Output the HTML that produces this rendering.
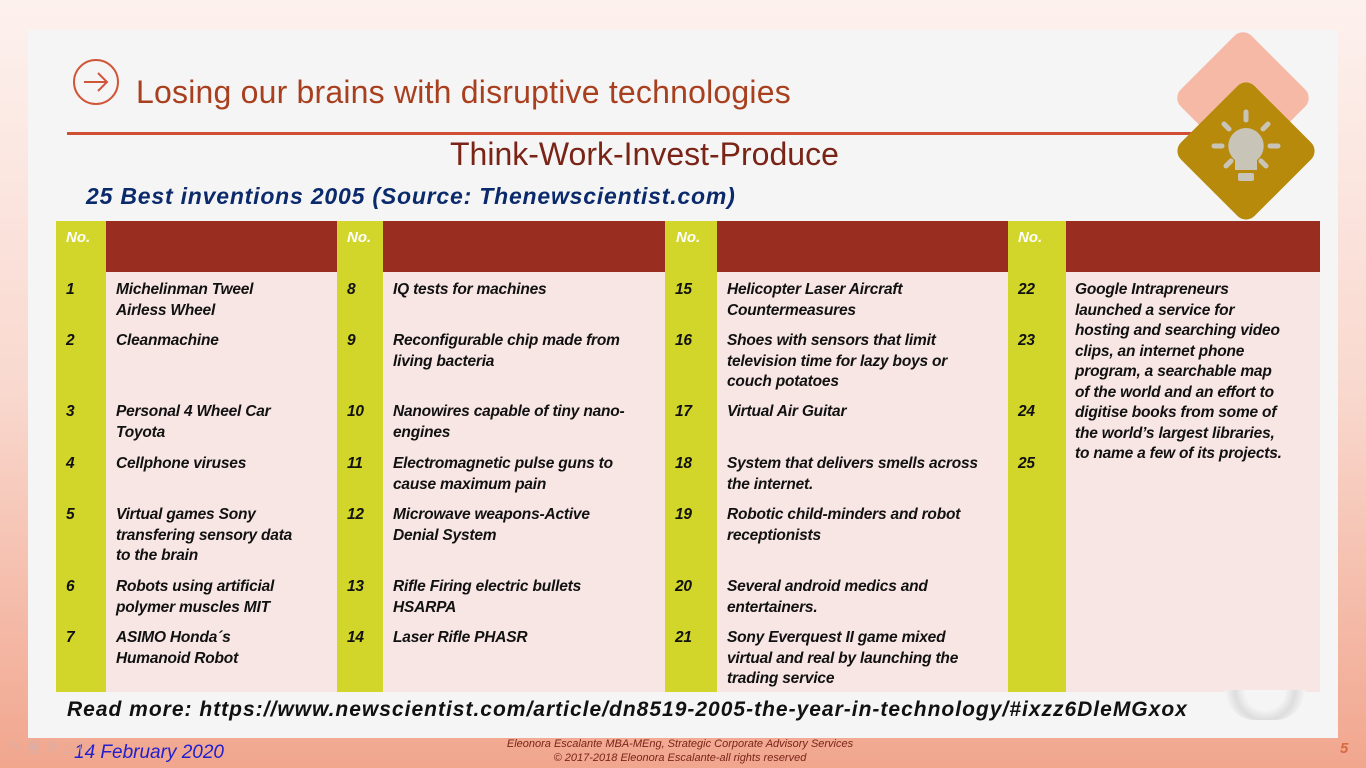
<!DOCTYPE html>
<html><head><meta charset="utf-8"><style>
body{margin:0;width:1366px;height:768px;overflow:hidden;position:relative;font-family:"Liberation Sans",sans-serif;background:linear-gradient(#fdf1ee 0%,#f9d9cf 50%,#f1a68e 100%);}
.abs{position:absolute}
.card{left:28px;top:30px;width:1310px;height:708px;background:#f5f5f5}
.cell{position:absolute;font-weight:bold;font-style:italic;font-size:15.5px;line-height:20.5px;color:#111;white-space:nowrap;letter-spacing:-0.2px}
.no{background:#d2d62a}
.hd{background:#992d1f}
.bd{background:#f7e6e4}
.nh{position:absolute;color:#fff;font-weight:bold;font-style:italic;font-size:15px;top:229px}
</style></head><body>
<div class="abs card"></div>
<svg class="abs" style="left:72px;top:55px" width="52" height="56"><circle cx="24" cy="27" r="22" fill="none" stroke="#d0563a" stroke-width="2"/><path d="M12 27h22M26 18l9 9-9 9" fill="none" stroke="#d0563a" stroke-width="2"/></svg>
<div class="abs" style="left:136px;top:74px;font-size:32px;color:#a8401f;letter-spacing:0.2px">Losing our brains with disruptive technologies</div>
<div class="abs" style="left:67px;top:132px;width:1130px;height:3px;background:#cf4f34"></div>
<div class="abs" style="left:1193px;top:48px;width:100px;height:100px;background:#f5b9a5;border-radius:12px;transform:rotate(45deg)"></div>
<div class="abs" style="left:1194px;top:99px;width:104px;height:104px;background:#b88a0c;border-radius:12px;transform:rotate(45deg)"></div>
<svg class="abs" style="left:1206px;top:106px" width="80" height="85"><g stroke="#c8c4b8" stroke-width="5" stroke-linecap="round"><line x1="40" y1="6" x2="40" y2="14"/><line x1="18" y1="18" x2="23" y2="23"/><line x1="62" y1="18" x2="57" y2="23"/><line x1="8" y1="40" x2="16" y2="40"/><line x1="72" y1="40" x2="64" y2="40"/><line x1="20" y1="60" x2="25" y2="55"/><line x1="60" y1="60" x2="55" y2="55"/></g><path d="M40 22a18 18 0 0 0-11 32v10h22V54a18 18 0 0 0-11-32z" fill="#c8c4b8"/><rect x="32" y="67" width="16" height="8" rx="2" fill="#c8c4b8"/></svg>
<div class="abs" style="left:450px;top:136px;font-size:32px;color:#7a2418">Think-Work-Invest-Produce</div>
<div class="abs" style="left:86px;top:183px;font-size:23px;font-weight:bold;font-style:italic;color:#0b2a6b;letter-spacing:0.8px">25 Best inventions 2005 (Source: Thenewscientist.com)</div>

<div class="abs no" style="left:56px;top:221px;width:50px;height:471px"></div>
<div class="abs hd" style="left:106px;top:221px;width:231px;height:51px"></div>
<div class="abs bd" style="left:106px;top:272px;width:231px;height:420px"></div>
<div class="abs no" style="left:337px;top:221px;width:46px;height:471px"></div>
<div class="abs hd" style="left:383px;top:221px;width:282px;height:51px"></div>
<div class="abs bd" style="left:383px;top:272px;width:282px;height:420px"></div>
<div class="abs no" style="left:665px;top:221px;width:52px;height:471px"></div>
<div class="abs hd" style="left:717px;top:221px;width:291px;height:51px"></div>
<div class="abs bd" style="left:717px;top:272px;width:291px;height:420px"></div>
<div class="abs no" style="left:1008px;top:221px;width:58px;height:471px"></div>
<div class="abs hd" style="left:1066px;top:221px;width:254px;height:51px"></div>
<div class="abs bd" style="left:1066px;top:272px;width:254px;height:420px"></div>
<div class="nh" style="left:66px">No.</div>
<div class="nh" style="left:347px">No.</div>
<div class="nh" style="left:676px">No.</div>
<div class="nh" style="left:1018px">No.</div>

<div id="cells"></div>
<script>
const tops=[280,331,402,454,505,577,628];
const cols=[[66,116],[347,393],[675,727],[1018,1075]];
const items=[
["1","Michelinman Tweel<br>Airless Wheel"],["2","Cleanmachine"],["3","Personal 4 Wheel Car<br>Toyota"],["4","Cellphone viruses"],["5","Virtual games  Sony<br>transfering sensory data<br>to the brain"],["6","Robots using artificial<br>polymer muscles MIT"],["7","ASIMO Honda´s<br>Humanoid Robot"],
["8","IQ tests for machines"],["9","Reconfigurable chip made from<br>living bacteria"],["10","Nanowires capable of tiny nano-<br>engines"],["11","Electromagnetic pulse guns to<br>cause maximum pain"],["12","Microwave weapons-Active<br>Denial System"],["13","Rifle Firing electric bullets<br>HSARPA"],["14","Laser Rifle PHASR"],
["15","Helicopter Laser Aircraft<br>Countermeasures"],["16","Shoes with sensors that limit<br>television time for lazy boys or<br>couch potatoes"],["17","Virtual Air Guitar"],["18","System that delivers smells across<br>the internet."],["19","Robotic child-minders and robot<br>receptionists"],["20","Several android medics and<br>entertainers."],["21","Sony Everquest II game mixed<br>virtual and real by launching the<br>trading service"]];
const c=document.getElementById('cells');
items.forEach((it,i)=>{const col=cols[Math.floor(i/7)],t=tops[i%7];
const a=document.createElement('div');a.className='cell';a.style.left=col[0]+'px';a.style.top=t+'px';a.innerHTML=it[0];


c.appendChild(a);
const b=document.createElement('div');b.className='cell';b.style.left=col[1]+'px';b.style.top=t+'px';b.innerHTML=it[1];


c.appendChild(b);});
[22,23,24,25].forEach((n,i)=>{const a=document.createElement('div');a.className='cell';a.style.left='1018px';a.style.top=tops[i]+'px';a.textContent=n;


c.appendChild(a);});
</script>
<div class="cell" style="left:1075px;top:280px">Google Intrapreneurs<br>launched a service for<br>hosting and searching video<br>clips, an internet phone<br>program, a searchable map<br>of the world and an effort to<br>digitise books from some of<br>the world’s largest libraries,<br>to name a few of its projects.</div>
<div class="abs" style="left:1225px;top:690px;width:80px;height:30px;border-radius:0 0 40px 40px;background:radial-gradient(circle at 50% 0,#f5f5f5 40%,#ddd 60%,#f5f5f5 80%)"></div>
<div class="abs" style="left:67px;top:698px;font-size:21px;font-weight:bold;font-style:italic;color:#111;letter-spacing:1px">Read more: https://www.newscientist.com/article/dn8519-2005-the-year-in-technology/#ixzz6DleMGxox</div>
<div class="abs" style="left:74px;top:742px;font-size:19px;font-style:italic;color:#2020d0">14 February 2020</div>
<div class="abs" style="left:470px;top:737px;width:420px;text-align:center;font-size:11px;font-style:italic;color:#7a2418;line-height:14px">Eleonora Escalante MBA-MEng, Strategic Corporate Advisory Services<br>© 2017-2018 Eleonora Escalante-all rights reserved</div>
<div class="abs" style="left:1340px;top:740px;font-size:15px;font-style:italic;font-weight:bold;color:#d86a40">5</div>
<div class="abs" style="left:8px;top:736px;font-size:16px;color:#d8b0a8;opacity:.7">✎ ▣ ⊕ △ ▷</div>
</body></html>
